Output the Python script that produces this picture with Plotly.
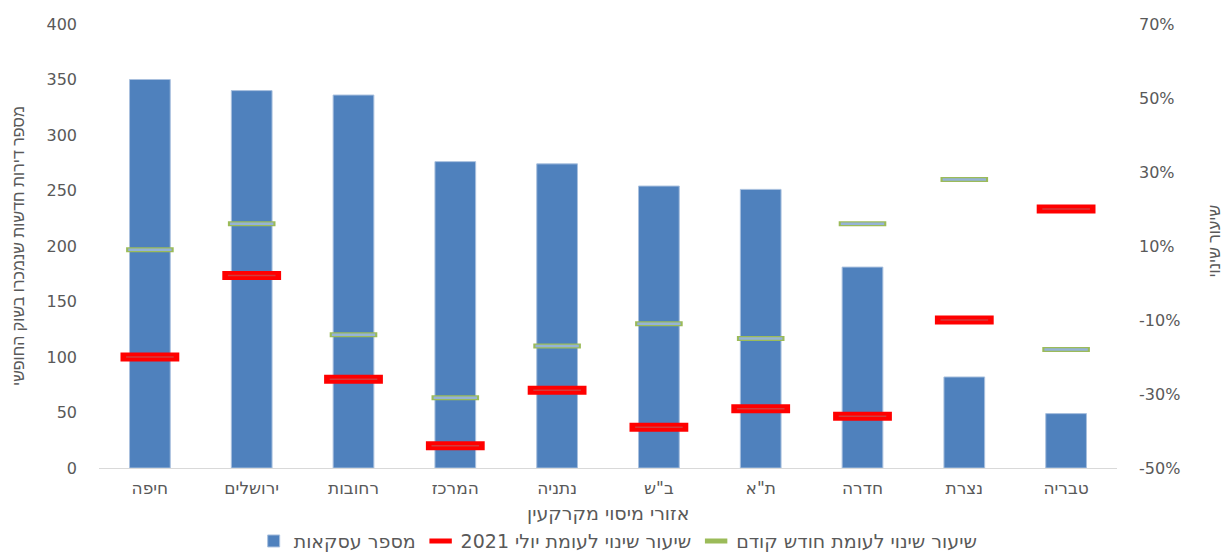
import plotly.graph_objects as go

# Regions (left to right)
regions = ["חיפה", "ירושלים", "רחובות", "המרכז", "נתניה", "ב\"ש", "ת\"א", "חדרה", "נצרת", "טבריה"]
# Number of new apartments sold on the free market
deals = [350, 340, 336, 276, 274, 254, 251, 181, 82, 49]
# Change vs. July 2021 (fraction)
chg_july = [-0.20, 0.02, -0.26, -0.44, -0.29, -0.39, -0.34, -0.36, -0.10, 0.20]
# Change vs. previous month (fraction)
chg_prev = [0.09, 0.16, -0.14, -0.31, -0.17, -0.11, -0.15, 0.16, 0.28, -0.18]
# Right-axis ticks
pct_ticks = [-0.5, -0.3, -0.1, 0.1, 0.3, 0.5, 0.7]
pct_labels = ["-50%", "-30%", "-10%", "10%", "30%", "50%", "70%"]

WIDE_FONT = "DejaVu Sans, Liberation Sans, sans-serif"
HEB_FONT = "Liberation Sans, Arial, DejaVu Sans, sans-serif"
GRAY = "#595959"

fig = go.Figure()

fig.add_trace(go.Bar(
    x=regions, y=deals, name="מספר עסקאות",
    marker=dict(color="#4f81bd", line=dict(color="#a9c0de", width=1)),
    yaxis="y",
))

# Red dash: thick red outline with a thin darker core
fig.add_trace(go.Scatter(
    x=regions, y=chg_july, name="שיעור שינוי לעומת יולי 2021",
    mode="markers", yaxis="y2",
    marker=dict(symbol="line-ew", size=42, line=dict(color="#ff0000", width=9)),
))
fig.add_trace(go.Scatter(
    x=regions, y=chg_july, showlegend=False, hoverinfo="skip",
    mode="markers", yaxis="y2",
    marker=dict(symbol="line-ew", size=34, line=dict(color="#d43a3a", width=1.5)),
))

# Green dash with light blue core
fig.add_trace(go.Scatter(
    x=regions, y=chg_prev, name="שיעור שינוי לעומת חודש קודם",
    mode="markers", yaxis="y2",
    marker=dict(symbol="line-ew", size=34, line=dict(color="#9bbb59", width=5)),
))
fig.add_trace(go.Scatter(
    x=regions, y=chg_prev, showlegend=False, hoverinfo="skip",
    mode="markers", yaxis="y2",
    marker=dict(symbol="line-ew", size=31, line=dict(color="#95b3d7", width=2.5)),
))

fig.update_layout(
    width=1227, height=559,
    margin=dict(l=99, r=110, t=24, b=91),
    paper_bgcolor="white", plot_bgcolor="white",
    font=dict(family=HEB_FONT, color=GRAY, size=15),
    bargap=0.6,
    showlegend=True,
    legend=dict(
        orientation="h", x=0.51, xanchor="center",
        yref="container", y=0.032, yanchor="middle",
        font=dict(size=19, color=GRAY, family=WIDE_FONT), itemwidth=30,
    ),
    xaxis=dict(
        range=[-0.5, 9.5],
        showline=True, linecolor="#d9d9d9", linewidth=1,
        showgrid=False, ticks="", automargin=False,
        tickfont=dict(size=17, color=GRAY, family=WIDE_FONT), ticklabelstandoff=5,
    ),
    yaxis=dict(
        range=[0, 400], dtick=50, showgrid=False, zeroline=False, showline=False,
        automargin=False,
        tickfont=dict(size=16, color=GRAY, family=WIDE_FONT), ticklabelstandoff=21,
    ),
    yaxis2=dict(
        overlaying="y", side="right", automargin=False,
        range=[-0.5, 0.7], tickvals=pct_ticks, ticktext=pct_labels,
        showgrid=False, zeroline=False, showline=False,
        tickfont=dict(size=16, color=GRAY, family=WIDE_FONT), ticklabelstandoff=21,
    ),
    annotations=[
        dict(text="מספר דירות חדשות שנמכרו בשוק החופשי", textangle=-90,
             xref="paper", yref="paper", x=0, y=0.5, xanchor="center", yanchor="middle",
             xshift=-81, showarrow=False, font=dict(size=16, color=GRAY, family=HEB_FONT)),
        dict(text="שיעור שינוי", textangle=-90,
             xref="paper", yref="paper", x=1, y=0.51, xanchor="center", yanchor="middle",
             xshift=98, showarrow=False, font=dict(size=16, color=GRAY, family=HEB_FONT)),
        dict(text="אזורי מיסוי מקרקעין", xref="paper", yref="paper", x=0.5, y=0,
             xanchor="center", yanchor="middle", yshift=-45, showarrow=False,
             font=dict(size=19, color=GRAY, family=WIDE_FONT)),
    ],
)

fig.write_html("out.html")
